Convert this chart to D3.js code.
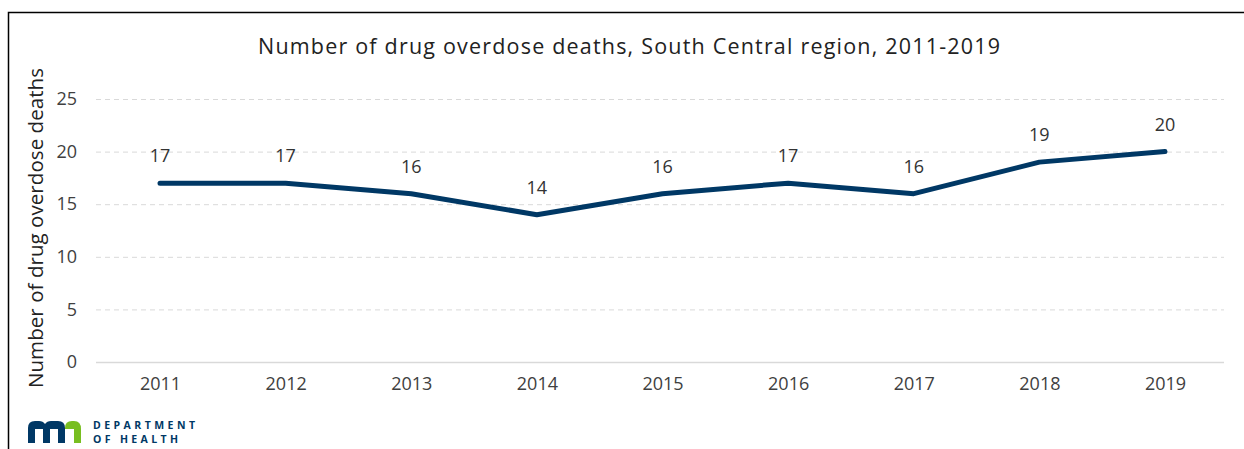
<!DOCTYPE html>
<html><head><meta charset="utf-8">
<script src="https://cdn.jsdelivr.net/npm/d3@7"></script>
<style>body{margin:0;background:#fff;} svg{display:block;font-family:"Open Sans",sans-serif;}</style>
</head><body>
<svg id="c" width="1244" height="449"></svg>
<script>
const years = ["2011","2012","2013","2014","2015","2016","2017","2018","2019"];
const deaths = [17,17,16,14,16,17,16,19,20];
const yTicks = [0,5,10,15,20,25];
const titleText = "Number of drug overdose deaths, South Central region, 2011-2019";
const yTitle = "Number of drug overdose deaths";

const svg = d3.select("#c");
// frame
svg.append("path").attr("d","M8.5,449 V12.5 H1244").attr("fill","none").attr("stroke","#000").attr("stroke-width",1.5);

const x = d3.scalePoint().domain(years).range([160,1165]);
const y = d3.scaleLinear().domain([0,25]).range([362,99]);

const grid = svg.append("g");
grid.selectAll("line").data(yTicks.filter(d=>d>0)).join("line")
  .attr("x1",96).attr("x2",1224).attr("y1",d=>y(d)+0.5).attr("y2",d=>y(d)+0.5)
  .attr("stroke","#d9d9d9").attr("stroke-dasharray","5,4").attr("stroke-width",1);
svg.append("line").attr("x1",96).attr("x2",1224).attr("y1",y(0)+0.5).attr("y2",y(0)+0.5)
  .attr("stroke","#d9d9d9").attr("stroke-width",1.5);

const yAxis = d3.axisLeft(y).tickValues(yTicks).tickSize(0).tickPadding(0);
const ya = svg.append("g").attr("transform","translate(77,0)").call(yAxis);
ya.select(".domain").remove();
ya.selectAll("text").attr("font-size",18).attr("fill","#404040").attr("font-family","Open Sans, sans-serif").attr("text-anchor","end");

const xAxis = d3.axisBottom(x).tickSize(0).tickPadding(0);
const xa = svg.append("g").attr("transform","translate(0,377)").call(xAxis);
xa.select(".domain").remove();
xa.selectAll("text").attr("font-size",18).attr("fill","#404040").attr("font-family","Open Sans, sans-serif").attr("dy","0.71em");

const line = d3.line().x((d,i)=>x(years[i])).y(d=>y(d));
svg.append("path").datum(deaths).attr("d",line).attr("fill","none")
  .attr("stroke","#003865").attr("stroke-width",5).attr("stroke-linejoin","round").attr("stroke-linecap","round");

svg.append("g").selectAll("text").data(deaths).join("text")
  .attr("x",(d,i)=>x(years[i])).attr("y",d=>y(d)-21)
  .attr("text-anchor","middle").attr("font-size",18).attr("fill","#333").text(d=>d);

svg.append("text").attr("x",629).attr("y",54).attr("text-anchor","middle")
  .attr("font-size",21.5).attr("fill","#222").attr("textLength",742).attr("lengthAdjust","spacing").text(titleText);

svg.append("text").attr("transform","translate(43,228) rotate(-90)").attr("text-anchor","middle")
  .attr("font-size",20.5).attr("fill","#222").attr("textLength",320).attr("lengthAdjust","spacing").text(yTitle);

// logo
const lg = svg.append("g").attr("transform","translate(28,421)");
lg.append("path").attr("d","M0,22 V7 Q0,0 7,0 H11 Q15,0 17,3 Q19,0 23,0 H30 Q37,0 37,7 V22 H30 V8 H22 V22 H15 V8 H7 V22 Z").attr("fill","#003865");
lg.append("path").attr("d","M37,7 Q37,0 44,0 H46 Q53,0 53,8 V22 H46 V8 H37 Z").attr("fill","#78be20");
svg.append("text").attr("x",93).attr("y",428.5).attr("font-size",10.5).attr("font-weight","bold").attr("fill","#003865")
  .attr("textLength",102).attr("lengthAdjust","spacing").text("DEPARTMENT");
svg.append("text").attr("x",93).attr("y",443).attr("font-size",10.5).attr("font-weight","bold").attr("fill","#003865")
  .attr("textLength",85).attr("lengthAdjust","spacing").text("OF HEALTH");
</script>
</body></html>
